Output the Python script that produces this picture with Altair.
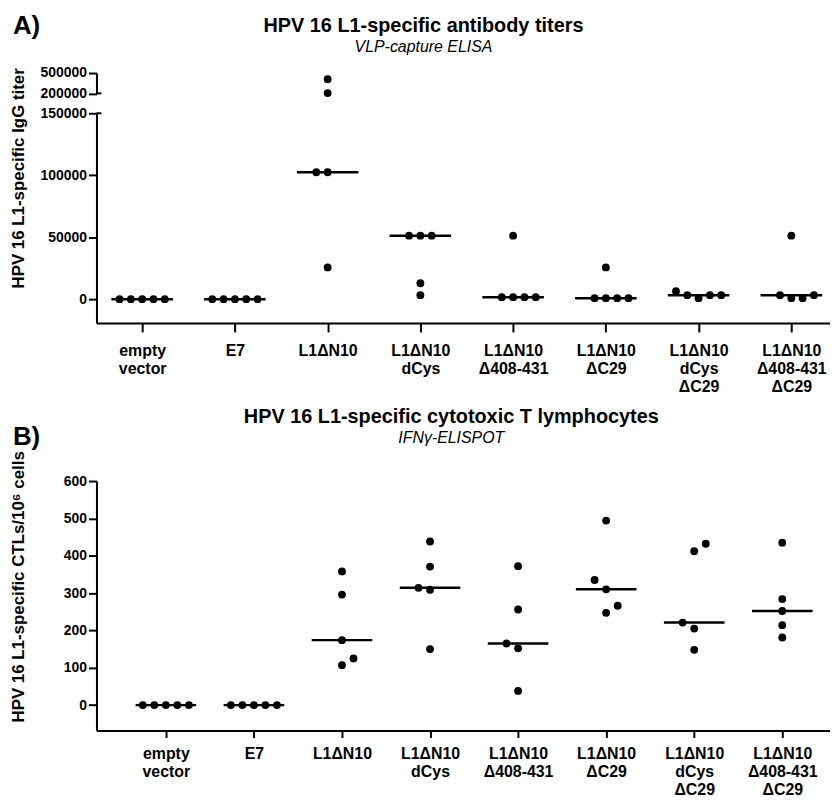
import altair as alt
import pandas as pd

FONT = "Liberation Sans"

# ---------------- data ----------------
groups = ["empty vector", "E7", "L1ΔN10", "L1ΔN10 dCys", "L1ΔN10 Δ408-431",
          "L1ΔN10 ΔC29", "L1ΔN10 dCys ΔC29", "L1ΔN10 Δ408-431 ΔC29"]
label_lines = [["empty", "vector"], ["E7"], ["L1ΔN10"], ["L1ΔN10", "dCys"],
               ["L1ΔN10", "Δ408-431"], ["L1ΔN10", "ΔC29"],
               ["L1ΔN10", "dCys", "ΔC29"], ["L1ΔN10", "Δ408-431", "ΔC29"]]

# A) HPV16 L1-specific IgG titers (VLP-capture ELISA)
igg_titer = [
    [0, 0, 0, 0, 0],
    [0, 0, 0, 0, 0],
    [409600, 204800, 102400, 102400, 25600],
    [51200, 51200, 51200, 12800, 3200],
    [51200, 1600, 1600, 1600, 1600],
    [25600, 800, 800, 800, 800],
    [6400, 3200, 800, 3200, 3200],
    [51200, 3200, 800, 800, 3200],
]
# column slot of each dot inside its group (dot-plot layout)
igg_slot = [
    [-2, -1, 0, 1, 2],
    [-2, -1, 0, 1, 2],
    [0, 0, -1, 0, 0],
    [-1, 0, 1, 0, 0],
    [0, -1, 0, 1, 2],
    [0, -1, 0, 1, 2],
    [-2, -1, 0, 1, 2],
    [0, -1, 0, 1, 2],
]

# B) HPV16 L1-specific CTLs / 10^6 cells (IFN-gamma ELISPOT)
ctl_count = [
    [0, 0, 0, 0, 0],
    [0, 0, 0, 0, 0],
    [358, 296, 174, 125, 107],
    [438, 371, 314, 309, 150],
    [372, 256, 165, 152, 38],
    [494, 335, 310, 266, 247],
    [432, 412, 221, 205, 148],
    [435, 284, 252, 214, 181],
]
ctl_slot = [
    [-2, -1, 0, 1, 2],
    [-2, -1, 0, 1, 2],
    [0, 0, 0, 1, 0],
    [0, 0, -1, 0, 0],
    [0, 0, -1, 0, 0],
    [0, -1, 0, 1, 0],
    [1, 0, -1, 0, 0],
    [0, 0, 0, 0, 0],
]

TOP_UNIT = 0.122   # dot column width in group units (panel A)
BOT_UNIT = 0.131   # dot column width in group units (panel B)


def frame(values, slots, unit):
    rows = []
    for g, (vals, sl) in enumerate(zip(values, slots)):
        for v, s in zip(vals, sl):
            rows.append({"g": g, "group": groups[g], "value": v, "xpos": g + s * unit})
    return pd.DataFrame(rows)


df_a = frame(igg_titer, igg_slot, TOP_UNIT)
df_b = frame(ctl_count, ctl_slot, BOT_UNIT)

# ---------------- layout ----------------
W = 738
NOBOX = alt.ViewBackground(strokeWidth=0, strokeOpacity=0, stroke="transparent")
xs_a = alt.Scale(domain=[-0.493, 7.417], nice=False, zero=False)
xs_b = alt.Scale(domain=[-0.788, 7.542], nice=False, zero=False)
ys_a_hi = alt.Scale(domain=[200000, 500000], nice=False, zero=False)
ys_a_lo = alt.Scale(domain=[-19250, 150000], nice=False, zero=False)
ys_b = alt.Scale(domain=[-68, 600], nice=False, zero=False)

label_expr = "[" + ",".join(
    "[" + ",".join("'" + l + "'" for l in lines) + "]" for lines in label_lines
) + "][datum.value]"

common = dict(domainColor="black", domainWidth=2, tickColor="black", tickWidth=2,
              labelColor="black", labelFont=FONT, labelFontWeight="bold", grid=False)


def x_axis(tick, pad):
    return alt.Axis(values=list(range(8)), labelExpr=label_expr, title=None,
                    tickSize=tick, labelPadding=pad, labelFontSize=16, labelLineHeight=18,
                    labelAngle=0, labelFlush=False, labelOverlap=False, labelBound=False,
                    labelBaseline="top", **common)


def y_axis(vals, title=None, tx=None, ty=None):
    kw = dict(values=vals, format="d", tickSize=8, labelPadding=2, labelFontSize=14,
              labelOverlap=False, labelFlush=False, **common)
    if title is None:
        kw["title"] = None
    else:
        kw.update(title=title, titleX=tx, titleY=ty, titleAngle=270, titleAlign="center",
                  titleBaseline="middle", titleFont=FONT, titleFontSize=17,
                  titleFontWeight="bold", titleColor="black")
    return alt.Axis(**kw)


def med_layer(df, xs, ys, half, xaxis, yaxis):
    return (alt.Chart(df)
            .transform_aggregate(median="median(value)", groupby=["g"])
            .transform_calculate(x1=f"datum.g - {half}", x2=f"datum.g + {half}")
            .mark_rule(color="black", strokeWidth=2.5)
            .encode(x=alt.X("x1:Q", scale=xs, axis=xaxis), x2="x2:Q",
                    y=alt.Y("median:Q", scale=ys, axis=yaxis)))


def dots(chart, xs, ys, xaxis, yaxis):
    return chart.mark_circle(size=62, color="black", opacity=1).encode(
        x=alt.X("xpos:Q", scale=xs, axis=xaxis),
        y=alt.Y("value:Q", scale=ys, axis=yaxis),
        tooltip=["group:N", "value:Q"])


def panel_label(txt, x, y):
    return alt.Chart(pd.DataFrame({"t": [txt]})).mark_text(
        font=FONT, fontSize=26, fontWeight="bold", align="left", baseline="alphabetic",
        color="black").encode(text="t:N", x=alt.value(x), y=alt.value(y))


def stub(value):
    return alt.Chart(pd.DataFrame({"v": [value]})).mark_rule(color="black", strokeWidth=2).encode(
        y=alt.Y("v:Q"), x=alt.value(0), x2=alt.value(5))


# invisible corner marker fixing the page origin
anchor = alt.Chart(pd.DataFrame({"a": [0]})).mark_rule(strokeOpacity=0).encode(
    x=alt.value(-89), x2=alt.value(-88), y=alt.value(-103.5))

# ---- panel A, upper (broken) segment ----
ya_hi = y_axis([200000, 500000])
upper = alt.layer(
    dots(alt.Chart(df_a).transform_filter("datum.value >= 200000"), xs_a, ys_a_hi, None, ya_hi),
    stub(200000),
).properties(width=W, height=20.5, view=NOBOX, title=alt.TitleParams(
    text="HPV 16 L1-specific antibody titers", subtitle="VLP-capture ELISA",
    font=FONT, fontSize=20, fontWeight="bold", color="black",
    subtitleFont=FONT, subtitleFontSize=16, subtitleFontStyle="italic",
    subtitleFontWeight="normal", subtitleColor="black", subtitlePadding=3,
    anchor="middle", dx=-40, offset=11))

# ---- panel A, lower segment ----
xa = x_axis(9, 11)
ya_lo = y_axis([0, 50000, 100000, 150000], "HPV 16 L1-specific IgG titer", -78, 65)
lower = alt.layer(
    dots(alt.Chart(df_a).transform_filter("datum.value <= 150000"), xs_a, ys_a_lo, xa, ya_lo),
    med_layer(df_a, xs_a, ys_a_lo, 0.332, xa, ya_lo),
    stub(150000),
    panel_label("A)", -84, -80),
    anchor,
).properties(width=W, height=211, view=NOBOX)

# ---- gap between the panels, carrying the "B)" tag ----
gap = panel_label("B)", -84, 103).properties(width=W, height=120, view=NOBOX)

# ---- panel B ----
xb = x_axis(7, 8)
yb = y_axis([0, 100, 200, 300, 400, 500, 600], "HPV 16 L1-specific CTLs/10⁶ cells", -78, 106)
panel_b = alt.layer(
    dots(alt.Chart(df_b), xs_b, ys_b, xb, yb),
    med_layer(df_b, xs_b, ys_b, 0.344, xb, yb),
).properties(width=W, height=251, view=NOBOX, title=alt.TitleParams(
    text="HPV 16 L1-specific cytotoxic T lymphocytes", subtitle="IFNγ-ELISPOT",
    font=FONT, fontSize=20, fontWeight="bold", color="black",
    subtitleFont=FONT, subtitleFontSize=16, subtitleFontStyle="italic",
    subtitleFontWeight="normal", subtitleColor="black", subtitlePadding=3,
    anchor="middle", dx=-12, offset=5))

chart = (alt.vconcat(upper, lower, gap, panel_b, spacing=19.5, bounds="flush")
         .properties(padding=0)
         .configure_view(stroke="transparent", strokeWidth=0, strokeOpacity=0)
         .configure(font=FONT))

chart.save("out.html", embed_options={"renderer": "svg", "actions": False})
